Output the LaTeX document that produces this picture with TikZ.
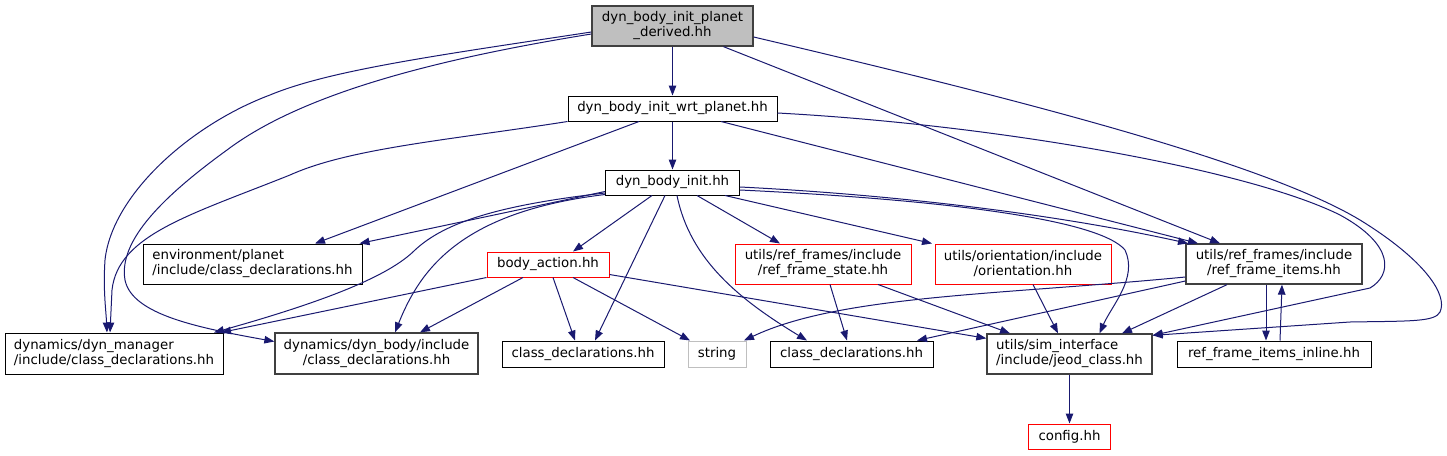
\documentclass[tikz,border=0pt]{standalone}
\usepackage{fontspec}
\setmainfont{DejaVu Sans}
\usetikzlibrary{arrows.meta,calc}
\definecolor{edgec}{HTML}{191970}
\definecolor{dg}{HTML}{404040}
\definecolor{rootfill}{HTML}{BFBFBF}
\definecolor{redc}{HTML}{FF0000}
\definecolor{lgray}{HTML}{BFBFBF}
\tikzset{
  box/.style={draw=black, line width=1pt, inner sep=0pt, align=center,
    font=\fontsize{13.33pt}{15pt}\selectfont},
  dbox/.style={box, draw=dg, line width=1.3pt},
  rbox/.style={box, draw=redc},
  lbox/.style={box, align=left},
  e/.style={draw=edgec, line width=1pt, -{Triangle[length=10pt,width=7.5pt]}}
}
\begin{document}
\begin{tikzpicture}[x=1pt,y=-1pt]
\fill[white] (0,0) rectangle (1447,455);
\useasboundingbox (0,0) rectangle (1447,455);

% nodes
\node[dbox, fill=rootfill, minimum width=161pt, minimum height=40pt] (root) at (672.5,26) {dyn\_body\_init\_planet\\\_derived.hh};
\node[box, minimum width=209pt, minimum height=25pt] (wrt) at (672.5,108.5) {dyn\_body\_init\_wrt\_planet.hh};
\node[box, minimum width=134pt, minimum height=25pt] (init) at (672.5,182.5) {dyn\_body\_init.hh};
\node[lbox, minimum width=219pt, minimum height=40pt] (env) at (252.5,264) {environment/planet\\/include/class\_declarations.hh};
\node[rbox, minimum width=122pt, minimum height=25pt] (bact) at (548,264.5) {body\_action.hh};
\node[rbox, minimum width=176pt, minimum height=40pt] (rfstate) at (823,264) {utils/ref\_frames/include\\/ref\_frame\_state.hh};
\node[rbox, minimum width=176pt, minimum height=40pt] (orient) at (1023,264) {utils/orientation/include\\/orientation.hh};
\node[dbox, minimum width=176pt, minimum height=40pt] (rfitems) at (1274,264) {utils/ref\_frames/include\\/ref\_frame\_items.hh};
\node[lbox, minimum width=218pt, minimum height=41pt] (dynmgr) at (114,353.5) {dynamics/dyn\_manager\\/include/class\_declarations.hh};
\node[dbox, minimum width=203pt, minimum height=41pt] (dynbody) at (376.5,353.5) {dynamics/dyn\_body/include\\/class\_declarations.hh};
\node[box, minimum width=162pt, minimum height=26pt] (cda) at (583,354) {class\_declarations.hh};
\node[box, draw=lgray, minimum width=58pt, minimum height=26pt] (string) at (717,354) {string};
\node[box, minimum width=163pt, minimum height=26pt] (cdb) at (851.5,354) {class\_declarations.hh};
\node[dbox, align=left, minimum width=165pt, minimum height=40pt] (jeod) at (1069.5,354) {utils/sim\_interface\\/include/jeod\_class.hh};
\node[box, minimum width=194pt, minimum height=26pt] (rfinline) at (1274,354) {ref\_frame\_items\_inline.hh};
\node[rbox, minimum width=82pt, minimum height=25pt] (config) at (1069.5,436.5) {config.hh};

% edges from root
\draw[e] (root) -- (wrt);
\draw[e] ([yshift=-6pt]root.west) .. controls (440,55) and (330,70) .. (270,95)
  .. controls (190,125) and (112,195) .. (105,260)
  .. controls (103,290) and (106,310) .. ([xshift=-7pt]dynmgr.north);
\draw[e] ([yshift=-8pt]root.west) .. controls (430,60) and (300,95) .. (227,150)
  .. controls (165,195) and (118,240) .. (125,280)
  .. controls (132,315) and (200,328) .. ([yshift=12pt]dynbody.west);
\draw[e] ([xshift=51pt]root.south) -- ([xshift=-54pt]rfitems.north);
\draw[e] ([yshift=-11pt]root.east) .. controls (1000,95) and (1260,160) .. (1360,220)
  .. controls (1425,260) and (1448,295) .. (1440,312)
  .. controls (1435,322) and (1410,321) .. (1350,322) -- ([yshift=-2pt]jeod.north east);

% edges from wrt
\draw[e] (wrt) -- (init);
\draw[e] (wrt.south west) .. controls (450,140) and (350,148) .. (290,175)
  .. controls (190,215) and (118,235) .. (112,290) -- ([xshift=-4pt]dynmgr.north);
\draw[e] ([xshift=-33.5pt]wrt.south) -- ([xshift=62.5pt]env.north);
\draw[e] ([xshift=48.5pt]wrt.south) -- ([xshift=-76pt]rfitems.north);
\draw[e] ([yshift=-4.5pt]wrt.east) .. controls (1000,125) and (1250,170) .. (1340,215)
  .. controls (1395,245) and (1392,275) .. (1370,288) -- ([yshift=-2pt]jeod.north east);

% edges from init
\draw[e] ([yshift=-9pt]init.west) -- ([xshift=107pt]env.north);
\draw[e] ([yshift=-10.5pt]init.west) .. controls (500,205) and (445,222) .. (415,250)
  .. controls (390,275) and (330,300) .. ([xshift=100pt]dynmgr.north);
\draw[e] ([yshift=-12pt]init.west) .. controls (460,212) and (420,270) .. ([xshift=18.5pt]dynbody.north);
\draw[e] ([xshift=-20.5pt]init.south) -- ([xshift=25pt]bact.north);
\draw[e] ([xshift=-7.5pt]init.south) -- ([xshift=12pt]cda.north);
\draw[e] ([xshift=4.5pt]init.south) .. controls (690,260) and (740,300) .. ([xshift=-44.5pt]cdb.north);
\draw[e] ([xshift=24.5pt]init.south) -- ([xshift=-43pt]rfstate.north);
\draw[e] ([xshift=52.5pt]init.south) -- ([xshift=-91pt]orient.north);
\draw[e] ([yshift=-4.5pt]init.east) .. controls (900,195) and (1060,215) .. ([xshift=-86pt]rfitems.north);
\draw[e] ([yshift=-7.5pt]init.east) .. controls (950,200) and (1100,220) .. (1125,250)
  .. controls (1138,278) and (1112,305) .. ([xshift=30pt]jeod.north);

% edges from body_action
\draw[e] (bact.south west) -- ([xshift=107pt]dynmgr.north);
\draw[e] ([xshift=-25pt]bact.south) -- ([xshift=43.5pt]dynbody.north);
\draw[e] ([xshift=5pt]bact.south) -- ([xshift=-8pt]cda.north);
\draw[e] ([xshift=25pt]bact.south) -- ([xshift=-27pt]string.north);
\draw[e] ([yshift=-10pt]bact.east) -- ([yshift=-5pt]jeod.north west);

% edges from ref_frame_state / orientation
\draw[e] ([xshift=7pt]rfstate.south) -- ([xshift=-4.5pt]cdb.north);
\draw[e] ([xshift=55pt]rfstate.south) -- ([xshift=-59.5pt]jeod.north);
\draw[e] ([xshift=10pt]orient.south) -- ([xshift=-11.5pt]jeod.north);

% edges from ref_frame_items
\draw[e] ([xshift=-47pt]rfitems.south) -- ([xshift=52.5pt]jeod.north);
\draw[e] ([yshift=-17pt]rfitems.west) -- ([xshift=65.5pt]cdb.north);
\draw[e] ([yshift=-13pt]rfitems.west) .. controls (1000,295) and (840,295) .. ([xshift=27pt]string.north);
\draw[e] ([xshift=-8pt]rfitems.south) -- ([xshift=-8pt]rfinline.north);
\draw[e] ([xshift=6pt]rfinline.north) -- ([xshift=8pt]rfitems.south);

% jeod -> config
\draw[e] (jeod) -- (config);
\end{tikzpicture}
\end{document}
